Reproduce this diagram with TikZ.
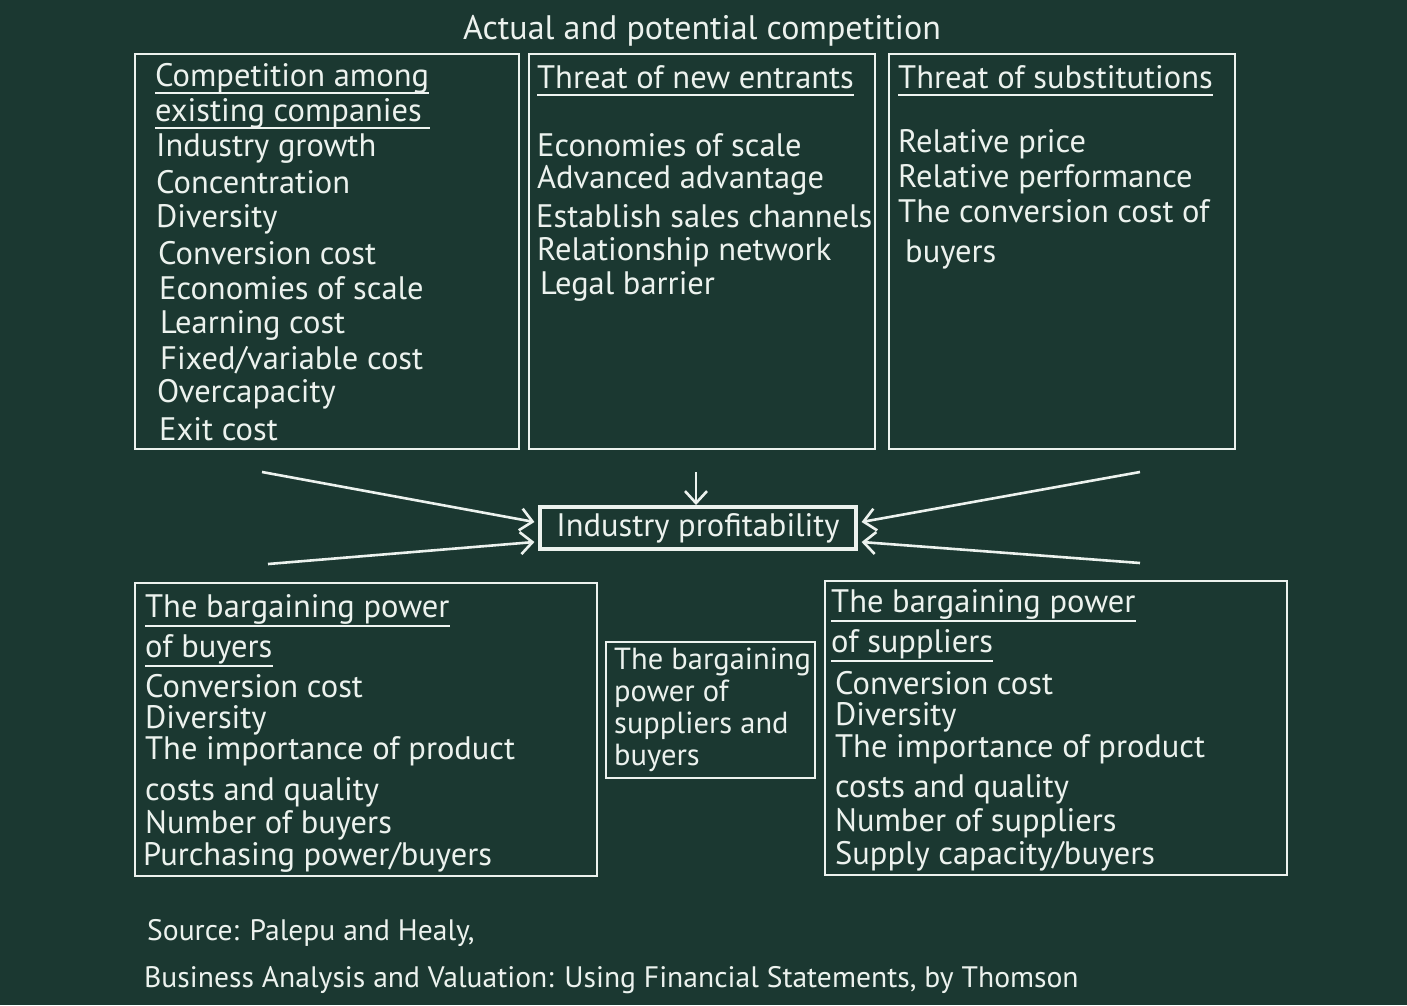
\documentclass[tikz,border=0pt]{standalone}
\usepackage{fontspec}
\setmainfont{PT Sans}
\usetikzlibrary{arrows.meta}
\definecolor{board}{RGB}{27,56,49}
\definecolor{chalk}{RGB}{236,242,238}
\newcommand{\boxfont}{\fontsize{32.5}{36}\selectfont}
\newcommand{\midfont}{\fontsize{30.5}{34}\selectfont}
\newcommand{\titlefont}{\fontsize{34}{38}\selectfont}
\newcommand{\srcfont}{\fontsize{29.6}{32}\selectfont}
\tikzset{
  panel/.style={draw=chalk,line width=2.8pt},
  item/.style={anchor=base west,inner sep=0pt,text=chalk,font=\boxfont},
  uline/.style={draw=chalk!85,line width=1.5pt},
  arr/.style={draw=chalk,line width=2.6pt,-{Straight Barb[length=12pt,width=22pt,line width=2.6pt]}}
}
\begin{document}
\begin{tikzpicture}[x=1pt,y=-1pt]
\fill[board] (0,0) rectangle (1407,1005);
\useasboundingbox (0,0) rectangle (1407,1005);

\node[text=chalk,font=\titlefont,inner sep=0pt] (title) at (702,31) {Actual and potential competition};

% top boxes
\draw[panel] (135,54) rectangle (519,449);
\draw[panel] (529,54) rectangle (875,449);
\draw[panel] (889,54) rectangle (1235,449);

\node[item] (h1a) at (155,86) {Competition among};
\node[item] (h1b) at (155,121) {existing companies};
\draw[uline] ([yshift=-7pt]h1a.base west) -- ([yshift=-7pt]h1a.base east);
\draw[uline] ([yshift=-7pt]h1b.base west) -- ([xshift=8pt,yshift=-7pt]h1b.base east);
\node[item] (c1) at (156,156) {Industry growth};
\node[item] (c2) at (156,193) {Concentration};
\node[item] (c3) at (156,227) {Diversity};
\node[item] (c4) at (158,264) {Conversion cost};
\node[item] (c5) at (159,299) {Economies of scale};
\node[item] (c6) at (160,333) {Learning cost};
\node[item] (c7) at (160,369) {Fixed/variable cost};
\node[item] (c8) at (157,402) {Overcapacity};
\node[item] (c9) at (159,440) {Exit cost};

\node[item] (h2) at (537,88) {Threat of new entrants};
\draw[uline] ([yshift=-7pt]h2.base west) -- ([yshift=-7pt]h2.base east);
\node[item] (e1) at (537,156) {Economies of scale};
\node[item] (e2) at (537,188) {Advanced advantage};
\node[item] (e3) at (536,227) {Establish sales channels};
\node[item] (e4) at (537,260) {Relationship network};
\node[item] (e5) at (540,294) {Legal barrier};

\node[item] (h3) at (898,88) {Threat of substitutions};
\draw[uline] ([yshift=-7pt]h3.base west) -- ([yshift=-7pt]h3.base east);
\node[item] (s1) at (898,152) {Relative price};
\node[item] (s2) at (898,187) {Relative performance};
\node[item] (s3) at (898,222) {The conversion cost of};
\node[item] (s4) at (905,262) {buyers};

% centre
\node[draw=chalk,line width=4pt,inner xsep=16pt,inner ysep=0pt,minimum height=42pt,
      text=chalk,font=\boxfont] (prof) at (698,528) {Industry profitability};
\coordinate (tp) at (696,472);
\coordinate (l1) at (262,472);
\coordinate (l2) at (268,564);
\coordinate (r1) at (1140,472);
\coordinate (r2) at (1140,563);
\draw[arr] (tp) -- (prof.north -| tp);
\draw[arr] (l1) -- ([xshift=-4pt,yshift=6pt]prof.west);
\draw[arr] (l2) -- ([xshift=-4pt,yshift=-14pt]prof.west);
\draw[arr] (r1) -- ([xshift=4pt,yshift=6pt]prof.east);
\draw[arr] (r2) -- ([xshift=4pt,yshift=-14pt]prof.east);

% bottom boxes
\draw[panel] (135,583) rectangle (597,876);
\draw[panel] (606,642) rectangle (815,778);
\draw[panel] (825,581) rectangle (1287,875);

\node[item] (h4a) at (145,617) {The bargaining power};
\node[item] (h4b) at (145,657) {of buyers};
\draw[uline] ([yshift=-9pt]h4a.base west) -- ([yshift=-9pt]h4a.base east);
\draw[uline] ([yshift=-9pt]h4b.base west) -- ([yshift=-9pt]h4b.base east);
\node[item] (b1) at (145,697) {Conversion cost};
\node[item] (b2) at (145,728) {Diversity};
\node[item] (b3) at (145,759) {The importance of product};
\node[item] (b4) at (145,800) {costs and quality};
\node[item] (b5) at (145,833) {Number of buyers};
\node[item] (b6) at (143,865) {Purchasing power/buyers};

\node[item,font=\midfont] (m1) at (614,669) {The bargaining};
\node[item,font=\midfont] (m2) at (614,701) {power of};
\node[item,font=\midfont] (m3) at (614,733) {suppliers and};
\node[item,font=\midfont] (m4) at (614,765) {buyers};

\node[item] (h6a) at (831,612) {The bargaining power};
\node[item] (h6b) at (831,652) {of suppliers};
\draw[uline] ([yshift=-9pt]h6a.base west) -- ([yshift=-9pt]h6a.base east);
\draw[uline] ([yshift=-9pt]h6b.base west) -- ([yshift=-9pt]h6b.base east);
\node[item] (p1) at (835,694) {Conversion cost};
\node[item] (p2) at (835,725) {Diversity};
\node[item] (p3) at (835,757) {The importance of product};
\node[item] (p4) at (835,797) {costs and quality};
\node[item] (p5) at (835,831) {Number of suppliers};
\node[item] (p6) at (835,864) {Supply capacity/buyers};

% source
\node[item,font=\srcfont] (src1) at (147,940) {Source: Palepu and Healy,};
\node[item,font=\srcfont] (src2) at (144,987) {Business Analysis and Valuation: Using Financial Statements, by Thomson};
\end{tikzpicture}
\end{document}
